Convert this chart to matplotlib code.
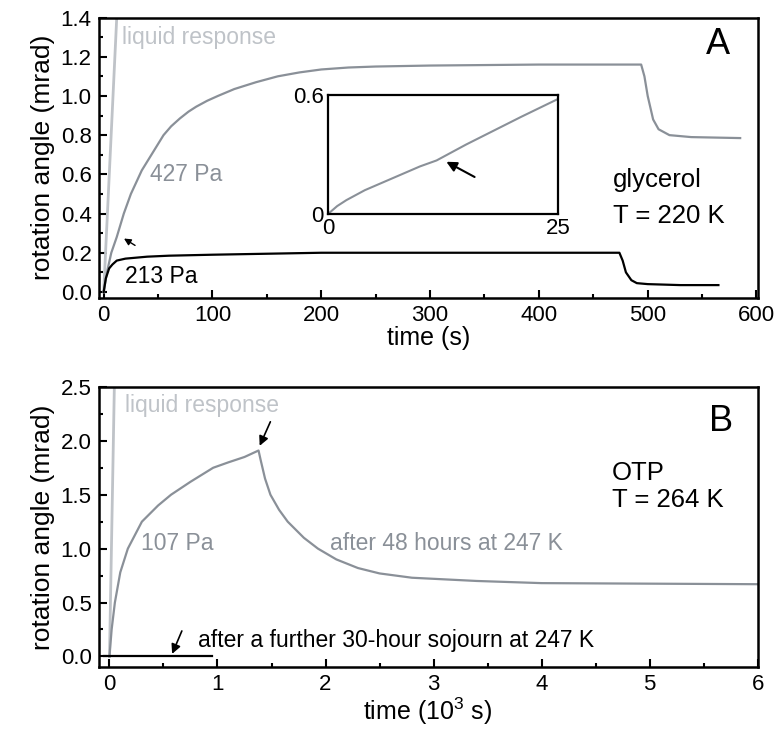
import matplotlib.pyplot as plt
from matplotlib.ticker import MultipleLocator

plt.rcParams['font.family'] = ['Liberation Sans', 'DejaVu Sans']
plt.rcParams['font.size'] = 16
plt.rcParams['mathtext.fontset'] = 'custom'
plt.rcParams['mathtext.rm'] = 'Liberation Sans'

# panel A (s, mrad)
a_liq_t = [0, 12]
a_liq_y = [0, 1.4]
a427_t = [0, 3, 7, 12, 18.5, 25, 35, 45, 55, 62, 70, 78, 85, 95, 105, 120, 140, 160, 180, 200, 225, 250, 300, 400, 494, 497, 500, 505, 510, 520, 540, 585]
a427_y = [0, 0.1, 0.2, 0.28, 0.4, 0.5, 0.62, 0.71, 0.8, 0.845, 0.885, 0.92, 0.945, 0.975, 1.0, 1.035, 1.07, 1.1, 1.12, 1.135, 1.145, 1.15, 1.155, 1.16, 1.16, 1.1, 1.0, 0.88, 0.83, 0.8, 0.79, 0.785]
a213_t = [0, 2, 5, 8, 12, 20, 40, 60, 100, 200, 300, 400, 474, 477, 480, 485, 490, 500, 530, 565]
a213_y = [0, 0.07, 0.12, 0.14, 0.16, 0.17, 0.18, 0.185, 0.19, 0.2, 0.2, 0.2, 0.2, 0.16, 0.1, 0.06, 0.045, 0.04, 0.035, 0.035]
ins_t = [0, 1, 2, 4, 6, 8, 10, 11.8, 13, 15, 18, 21, 25]
ins_y = [0, 0.04, 0.07, 0.12, 0.16, 0.2, 0.24, 0.27, 0.3, 0.35, 0.42, 0.49, 0.58]

# panel B (10^3 s, mrad)
b_liq_t = [0, 0.045]
b_liq_y = [0, 2.5]
b107_t = [0, 0.02, 0.05, 0.1, 0.17, 0.3, 0.45, 0.57, 0.75, 0.96, 1.1, 1.25, 1.38, 1.4, 1.44, 1.49, 1.57, 1.65, 1.8, 1.93, 2.1, 2.3, 2.5, 2.8, 3.4, 4.0, 5.0, 6.0]
b107_y = [0, 0.25, 0.5, 0.78, 1.0, 1.25, 1.4, 1.5, 1.62, 1.75, 1.8, 1.85, 1.91, 1.82, 1.65, 1.5, 1.36, 1.25, 1.1, 1.0, 0.9, 0.82, 0.77, 0.73, 0.7, 0.68, 0.675, 0.67]
b_after_t = [-0.05, 0.95]
b_after_y = [0, 0]

grey = '#8a9098'
light = '#bfc3c8'

fig = plt.figure(figsize=(7.77, 7.30), dpi=100)
ax1 = fig.add_axes([0.127, 0.592, 0.848, 0.384])
ax2 = fig.add_axes([0.127, 0.086, 0.848, 0.384])

ax1.plot(a_liq_t, a_liq_y, color=light, lw=2)
ax1.plot(a427_t, a427_y, color=grey, lw=1.6)
ax1.plot(a213_t, a213_y, color='black', lw=1.6)
ax1.set_xlim(-4.6, 601)
ax1.set_ylim(-0.03, 1.4)
ax1.set_yticks([0, 0.2, 0.4, 0.6, 0.8, 1.0, 1.2, 1.4])
ax1.set_yticklabels(['0.0', '0.2', '0.4', '0.6', '0.8', '1.0', '1.2', '1.4'])
ax1.set_xticks([0, 100, 200, 300, 400, 500, 600])
ax1.xaxis.set_minor_locator(MultipleLocator(50))
ax1.yaxis.set_minor_locator(MultipleLocator(0.1))
ax1.set_xlabel('time (s)', fontsize=18, labelpad=0)
ax1.set_ylabel('rotation angle (mrad)', fontsize=19, labelpad=4)
ax1.text(16.5, 1.3, 'liquid response', color=light, fontsize=16.5, va='center')
ax1.text(43, 0.6, '427 Pa', color=grey, fontsize=16.5, va='center')
ax1.text(20, 0.08, '213 Pa', color='black', fontsize=16.5, va='center')
ax1.text(468, 0.57, 'glycerol', fontsize=18.5, va='center')
ax1.text(468, 0.39, 'T = 220 K', fontsize=18.5, va='center')
ax1.text(576, 1.26, 'A', fontsize=26, ha='right', va='center')
ax1.annotate('', xy=(16.5, 0.28), xytext=(31, 0.23),
             arrowprops=dict(arrowstyle='-|>', color='black', lw=1, mutation_scale=10))

ins = fig.add_axes([328 / 777, 1 - 214 / 730, 230 / 777, 119 / 730])
ins.plot(ins_t, ins_y, color=grey, lw=1.5)
ins.set_xlim(0, 25)
ins.set_ylim(0, 0.6)
ins.set_xticks([0, 25])
ins.set_yticks([0, 0.6])
ins.set_yticklabels(['0', '0.6'])
ins.tick_params(length=0, labelsize=16, pad=3)
for s in ins.spines.values():
    s.set_linewidth(1.6)
ins.annotate('', xy=(12.6, 0.27), xytext=(16.2, 0.18),
             arrowprops=dict(arrowstyle='-|>', color='black', lw=1.5, mutation_scale=15))

ax2.plot(b_liq_t, b_liq_y, color=light, lw=2)
ax2.plot(b107_t, b107_y, color=grey, lw=1.6)
ax2.plot(b_after_t, b_after_y, color='black', lw=1.6)
ax2.set_xlim(-0.1, 6.0)
ax2.set_ylim(-0.1, 2.5)
ax2.set_yticks([0, 0.5, 1.0, 1.5, 2.0, 2.5])
ax2.set_yticklabels(['0.0', '0.5', '1.0', '1.5', '2.0', '2.5'])
ax2.xaxis.set_minor_locator(MultipleLocator(0.5))
ax2.yaxis.set_minor_locator(MultipleLocator(0.25))
ax2.set_xlabel('time (10$^3$ s)', fontsize=18, labelpad=0)
ax2.set_ylabel('rotation angle (mrad)', fontsize=19, labelpad=4)
ax2.text(0.14, 2.33, 'liquid response', color=light, fontsize=16.5, va='center')
ax2.text(0.29, 1.05, '107 Pa', color=grey, fontsize=16.5, va='center')
ax2.text(2.04, 1.05, 'after 48 hours at 247 K', color=grey, fontsize=16.5, va='center')
ax2.text(0.82, 0.15, 'after a further 30-hour sojourn at 247 K', fontsize=16.5, va='center')
ax2.text(4.65, 1.70, 'OTP', fontsize=18.5, va='center')
ax2.text(4.65, 1.45, 'T = 264 K', fontsize=18.5, va='center')
ax2.text(5.77, 2.18, 'B', fontsize=26, ha='right', va='center')
ax2.annotate('', xy=(1.38, 1.93), xytext=(1.5, 2.2),
             arrowprops=dict(arrowstyle='-|>', color='black', lw=1.2, mutation_scale=14))
ax2.annotate('', xy=(0.57, 0.0), xytext=(0.68, 0.26),
             arrowprops=dict(arrowstyle='-|>', color='black', lw=1.2, mutation_scale=14))

for a in (ax1, ax2):
    a.tick_params(which='both', direction='in', labelsize=16, width=1.5)
    a.tick_params(which='major', length=6, pad=5)
    a.tick_params(which='minor', length=3)
    a.tick_params(top=False, right=False)
    for s in a.spines.values():
        s.set_linewidth(1.8)

fig.savefig('out.png', dpi=100)
